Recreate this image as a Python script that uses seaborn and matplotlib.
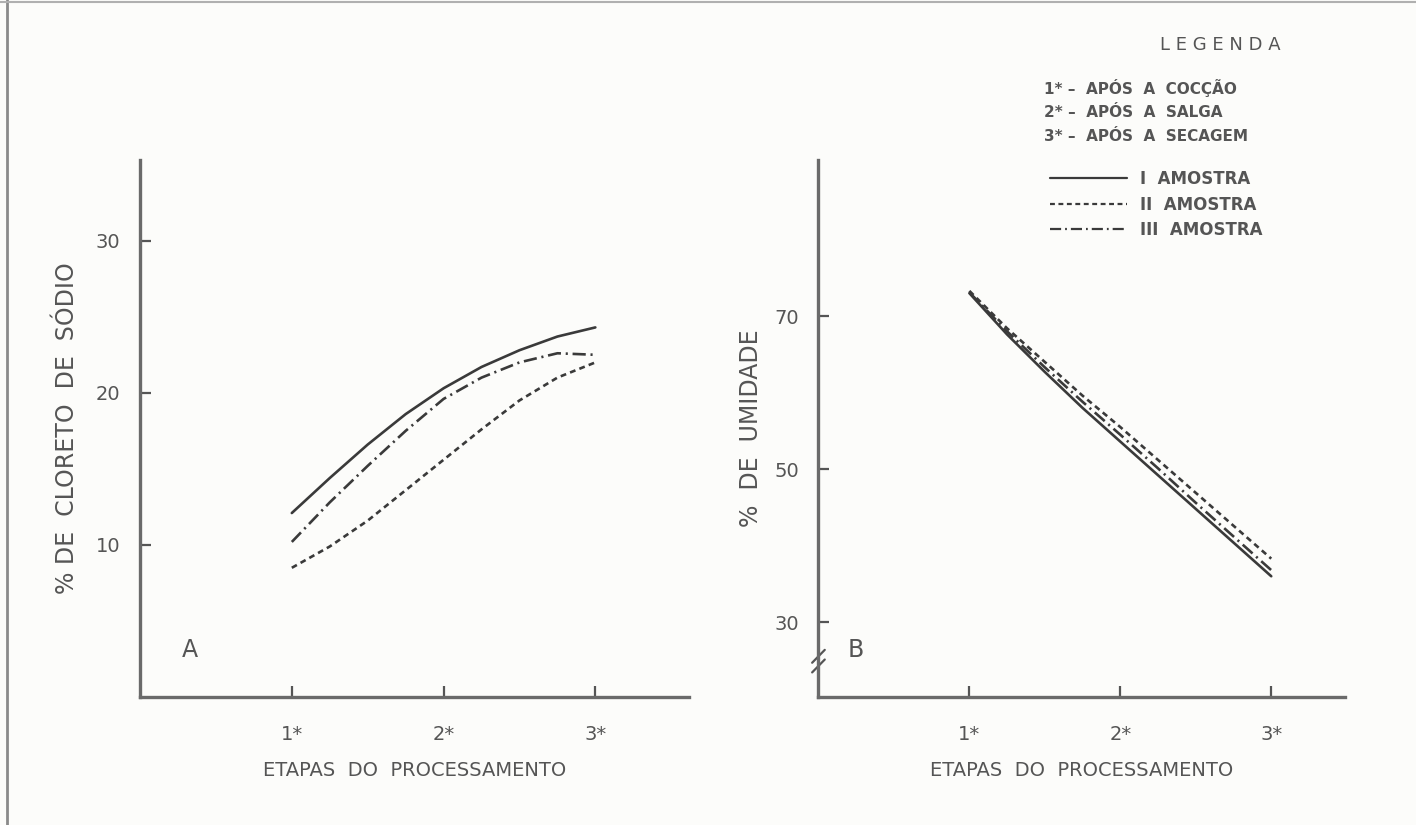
import numpy as np
import pandas as pd
import matplotlib
matplotlib.use("Agg")
import matplotlib.pyplot as plt
from matplotlib.lines import Line2D
import seaborn as sns

# ---------------- data ----------------
stage_pos = [1.0, 1.25, 1.5, 1.75, 2.0, 2.25, 2.5, 2.75, 3.0]
stage_ticks = [1, 2, 3]
stage_labels = ["1*", "2*", "3*"]
samples = ["I AMOSTRA", "II AMOSTRA", "III AMOSTRA"]

# Panel A: % cloreto de sodio
nacl_I = [12.1, 14.4, 16.6, 18.6, 20.3, 21.7, 22.8, 23.7, 24.3]
nacl_II = [8.5, 9.9, 11.6, 13.6, 15.6, 17.6, 19.5, 21.0, 22.0]
nacl_III = [10.2, 12.8, 15.2, 17.5, 19.6, 21.0, 22.0, 22.6, 22.5]

# Panel B: % umidade
umid_I = [73.0, 67.6, 62.7, 58.0, 53.6, 49.2, 44.8, 40.4, 36.0]
umid_II = [73.3, 68.4, 64.0, 59.6, 55.5, 51.2, 46.9, 42.6, 38.3]
umid_III = [73.1, 68.0, 63.3, 58.8, 54.5, 50.1, 45.6, 41.2, 36.8]

yticks_A = [10, 20, 30]
yticks_B = [30, 50, 70]

stage_legend = ["1* \u2013  APÓS  A  COCÇÃO", "2* \u2013  APÓS  A  SALGA", "3* \u2013  APÓS  A  SECAGEM"]

# ---------------- build long tables ----------------
def long_df(series):
    rows = []
    for name, vals in zip(samples, series):
        for x, v in zip(stage_pos, vals):
            rows.append({"etapa": x, "valor": v, "amostra": name})
    return pd.DataFrame(rows)

dfA = long_df([nacl_I, nacl_II, nacl_III])
dfB = long_df([umid_I, umid_II, umid_III])

sns.set_style("ticks")
plt.rcParams["font.family"] = ["DejaVu Sans"]

ink = "#3a3a3a"
txt = "#555555"
dashes = {"I AMOSTRA": "", "II AMOSTRA": (2.2, 1.6), "III AMOSTRA": (5, 1.8, 0.8, 1.8)}

fig = plt.figure(figsize=(14.16, 8.25), dpi=100, facecolor="#fcfcfa")
axA = fig.add_axes([0.0989, 0.155, 0.388, 0.651])
axB = fig.add_axes([0.578, 0.155, 0.372, 0.651])

for ax, df in ((axA, dfA), (axB, dfB)):
    sns.lineplot(data=df, x="etapa", y="valor", style="amostra", dashes=dashes,
                 color=ink, linewidth=1.9, legend=False, ax=ax, sort=False)
    ax.set_facecolor("none")
    for s in ("top", "right"):
        ax.spines[s].set_visible(False)
    for s in ("left", "bottom"):
        ax.spines[s].set_linewidth(2.4)
        ax.spines[s].set_color("#6a6a6a")
    ax.set_xticks(stage_ticks)
    ax.set_xticklabels(stage_labels)
    ax.tick_params(axis="both", direction="in", length=8, width=1.6, colors="#555555",
                   labelsize=14, labelcolor=txt)
    ax.tick_params(axis="y", pad=14)
    ax.tick_params(axis="x", pad=20)
    ax.set_xlabel("ETAPAS  DO  PROCESSAMENTO", fontsize=14, color=txt, labelpad=12)

axA.set_xlim(0, 3.62)
axA.set_ylim(0, 35.3)
axA.set_yticks(yticks_A)
axA.set_ylabel("% DE  CLORETO  DE  SÓDIO", fontsize=17, color=txt, labelpad=12)

axB.set_xlim(0, 3.49)
axB.set_ylim(20.2, 90.4)
axB.set_yticks(yticks_B)
axB.set_ylabel("%  DE  UMIDADE", fontsize=17, color=txt, labelpad=8)

axA.text(0.09, 0.088, "A", transform=axA.transAxes, fontsize=17, color=txt, ha="center", va="center")
axB.text(0.07, 0.088, "B", transform=axB.transAxes, fontsize=17, color=txt, ha="center", va="center")

# axis-break marks on panel B
for dy in (-0.012, 0.006):
    axB.plot([-0.012, 0.012], [0.07 + dy - 0.012, 0.07 + dy + 0.012], transform=axB.transAxes,
             color="#555555", lw=1.6, clip_on=False)

# page edges of the scan
fig.add_artist(Line2D([0.005, 0.005], [0.0, 1.0], transform=fig.transFigure, color="#8a8a8a", lw=2))
fig.add_artist(Line2D([0.0, 1.0], [0.997, 0.997], transform=fig.transFigure, color="#b0b0b0", lw=1.5))

# legend block
fig.text(0.862, 0.945, "L E G E N D A", fontsize=13, color=txt, ha="center", va="center")
for i, s in enumerate(stage_legend):
    fig.text(0.737, 0.893 - i * 0.029, s, fontsize=11, color=txt, ha="left", va="center",
             fontweight="bold")

handles = [Line2D([], [], color=ink, lw=1.6, linestyle="-"),
           Line2D([], [], color=ink, lw=1.6, dashes=dashes["II AMOSTRA"]),
           Line2D([], [], color=ink, lw=1.6, dashes=dashes["III AMOSTRA"])]
leg = fig.legend(handles, ["I  AMOSTRA", "II  AMOSTRA", "III  AMOSTRA"], loc="upper left",
                 bbox_to_anchor=(0.731, 0.812), frameon=False, handlelength=4.6,
                 handletextpad=0.8, labelspacing=0.45, fontsize=12)
for t in leg.get_texts():
    t.set_color(txt)
    t.set_fontweight("bold")

fig.savefig("out.png", dpi=100, facecolor=fig.get_facecolor())
